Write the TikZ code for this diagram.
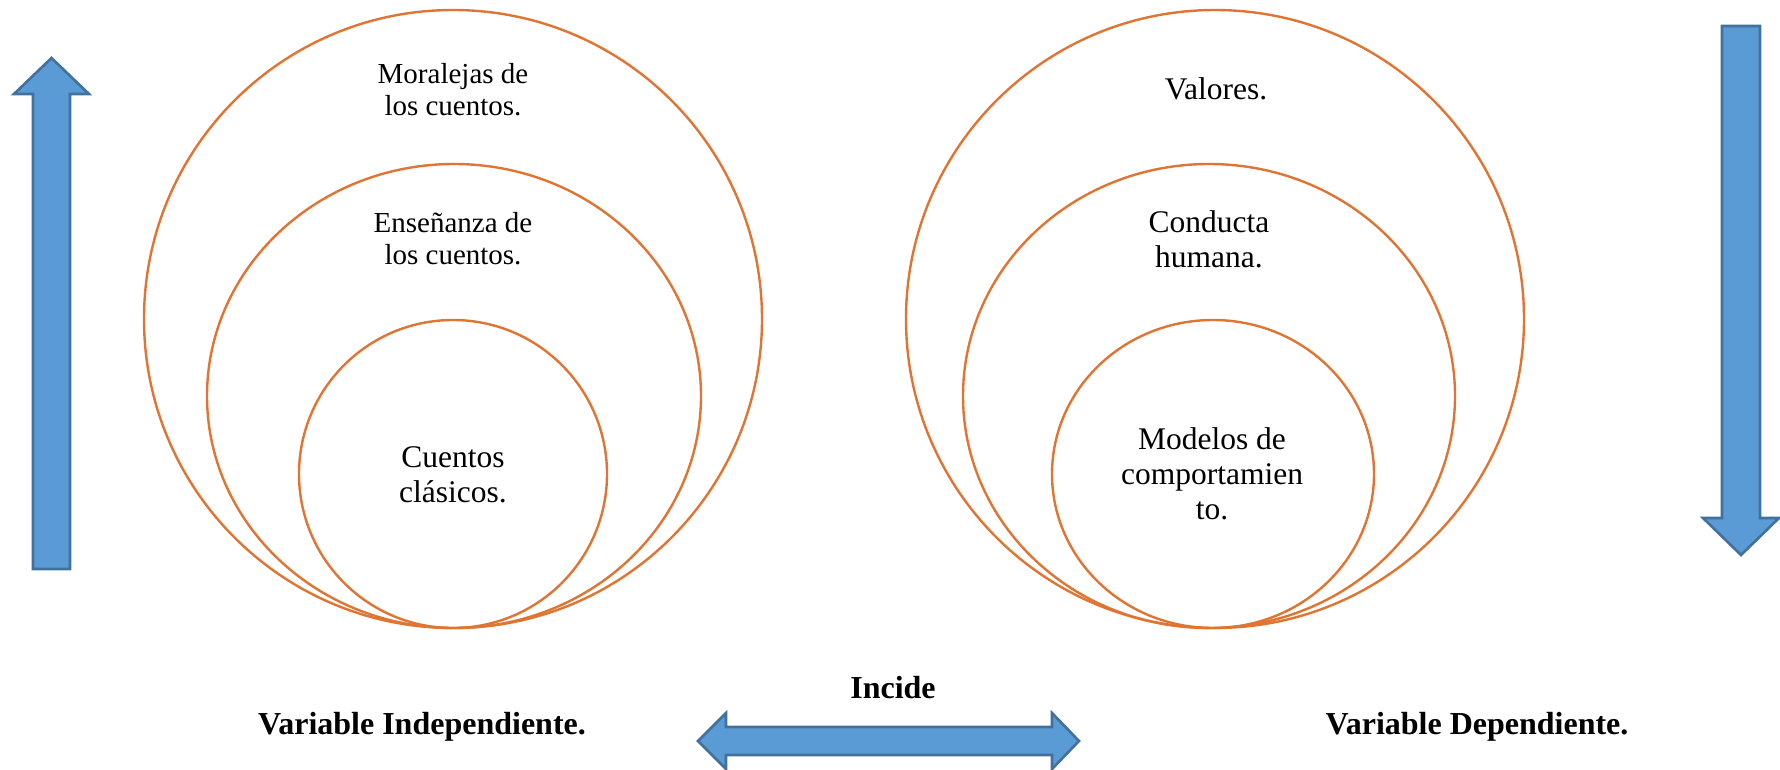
\documentclass[tikz,border=0pt]{standalone}
\usepackage{fontspec}
\setmainfont{Liberation Serif}
\usetikzlibrary{shapes.geometric}
\definecolor{ringc}{HTML}{E07432}
\definecolor{arrfill}{HTML}{5B9BD5}
\definecolor{arrline}{HTML}{41719C}
\tikzset{
  ring/.style={draw=ringc, line width=2.4pt, ellipse, inner sep=0pt, outer sep=0pt},
  blockarrow/.style={fill=arrfill, draw=arrline, line width=2.6pt, line join=miter},
  smalltxt/.style={align=center, font=\fontsize{29}{32}\selectfont, inner sep=0pt},
  bigtxt/.style={align=center, font=\fontsize{31.5}{35}\selectfont, inner sep=0pt},
  labeltxt/.style={font=\fontsize{32}{36}\selectfont\bfseries, inner sep=0pt}
}
\begin{document}
\begin{tikzpicture}[x=1pt,y=-1pt]
\useasboundingbox (0,0) rectangle (1780,769);
% left rings
\node[ring, minimum width=618, minimum height=618] (l1) at (453,319) {};
\node[ring, minimum width=494, minimum height=464] (l2) at (454,396) {};
\node[ring, minimum width=308, minimum height=308] (l3) at (453,474) {};
% right rings
\node[ring, minimum width=618, minimum height=618] (r1) at (1215,319) {};
\node[ring, minimum width=492, minimum height=464] (r2) at (1209,396) {};
\node[ring, minimum width=322, minimum height=308] (r3) at (1213,474) {};
% texts
\node[smalltxt] (t1) at (453,90) {Moralejas de\\los cuentos.};
\node[smalltxt] (t2) at (453,239) {Enseñanza de\\los cuentos.};
\node[bigtxt] (t3) at (453,475) {Cuentos\\clásicos.};
\node[bigtxt] (t4) at (1216,89) {Valores.};
\node[bigtxt] (t5) at (1209,239) {Conducta\\humana.};
\node[bigtxt] (t6) at (1212,474) {Modelos de\\comportamien\\to.};
\node[labeltxt] (v1) at (422,727) {Variable Independiente.};
\node[labeltxt] (v2) at (1477,727) {Variable Dependiente.};
\node[labeltxt] (inc) at (893,688) {Incide};
% up arrow (left)
\draw[blockarrow] (33,569) -- (33,94) -- (14,94) -- (51.5,58) -- (89,94) -- (70,94) -- (70,569) -- cycle;
% down arrow (right)
\draw[blockarrow] (1722,26) -- (1760,26) -- (1760,518) -- (1779,518) -- (1741,555) -- (1703,518) -- (1722,518) -- cycle;
% double arrow
\draw[blockarrow] (698,741) -- (726,713) -- (726,727) -- (1052,727) -- (1052,713) -- (1079,741) -- (1052,769) -- (1052,755) -- (726,755) -- (726,769) -- cycle;
\end{tikzpicture}
\end{document}
